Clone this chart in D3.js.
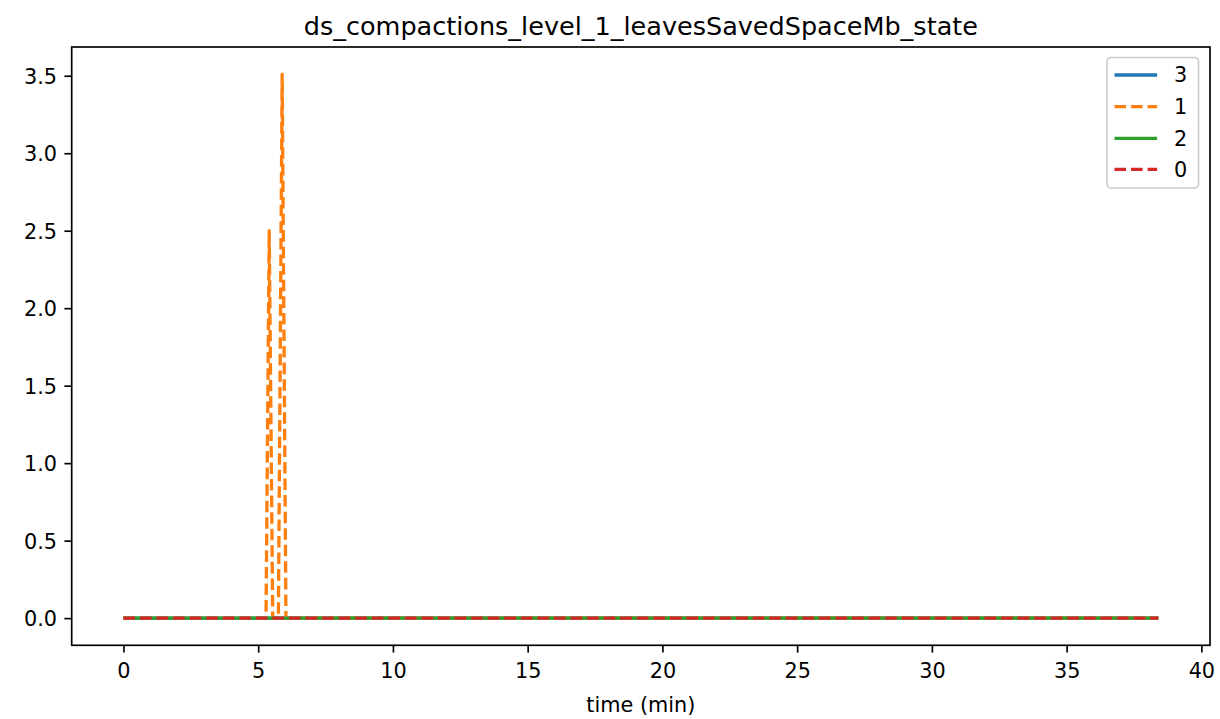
<!DOCTYPE html>
<html>
<head>
<meta charset="utf-8">
<script src="https://cdn.jsdelivr.net/npm/d3@7"></script>
<style>
  html, body { margin: 0; padding: 0; background: #fff; }
  svg { display: block; font-family: "DejaVu Sans", sans-serif; }
</style>
</head>
<body>
<div id="chart"></div>
<script>
// ---- data ----
const chartTitle = "ds_compactions_level_1_leavesSavedSpaceMb_state";
const xLabel = "time (min)";
const seriesNames = ["3", "1", "2", "0"];
const seriesColors = ["#1f77b4", "#ff7f0e", "#2ca02c", "#d62728"];
const seriesDashed = [false, true, false, true];

const time3 = [0, 38.4];
const values3 = [0, 0];
const time1 = [0, 5.29, 5.41, 5.54, 5.75, 5.89, 6.03, 38.4];
const values1 = [0, 0, 2.5, 0, 0, 3.51, 0, 0];
const time2 = [0, 38.4];
const values2 = [0, 0];
const time0 = [0, 38.4];
const values0 = [0, 0];

const xTicks = [0, 5, 10, 15, 20, 25, 30, 35, 40];
const yTicks = [0.0, 0.5, 1.0, 1.5, 2.0, 2.5, 3.0, 3.5];

const seriesTimes = [time3, time1, time2, time0];
const seriesValues = [values3, values1, values2, values0];

// ---- layout ----
const W = 1220, H = 719;
const plot = { left: 71.7, right: 1210, top: 47, bottom: 645.3 };
const fontTick = 20.8, fontTitle = 25.5;
const lw = 3.3;

const svg = d3.select("#chart").append("svg").attr("width", W).attr("height", H);
svg.append("rect").attr("width", W).attr("height", H).attr("fill", "#fff");

const allT = seriesTimes.flat(), allV = seriesValues.flat();
const tMin = d3.min(allT), tMax = d3.max(allT);
const vMin = d3.min(allV), vMax = d3.max(allV);
const tPad = (tMax - tMin) * 0.05, vPad = (vMax - vMin) * 0.05;

const x = d3.scaleLinear().domain([tMin - tPad, tMax + tPad]).range([plot.left, plot.right]);
const y = d3.scaleLinear().domain([vMin - vPad, vMax + vPad]).range([plot.bottom, plot.top]);

// lines
const line = d3.line().x(d => x(d[0])).y(d => y(d[1]));
const gLines = svg.append("g");
seriesNames.forEach((name, i) => {
  const pts = seriesTimes[i].map((t, j) => [t, seriesValues[i][j]]);
  gLines.append("path")
    .attr("d", line(pts))
    .attr("fill", "none")
    .attr("stroke", seriesColors[i])
    .attr("stroke-width", lw)
    .attr("stroke-linejoin", "round")
    .attr("stroke-dasharray", seriesDashed[i] ? "11.56,5" : null);
});

// axes
const tickLen = 7.3, tickPad = 7.3;
const xAxis = d3.axisBottom(x).tickValues(xTicks).tickFormat(d3.format("d"))
  .tickSizeInner(tickLen).tickSizeOuter(0).tickPadding(tickPad);
const yAxis = d3.axisLeft(y).tickValues(yTicks).tickFormat(d3.format(".1f"))
  .tickSizeInner(tickLen).tickSizeOuter(0).tickPadding(tickPad);

const gx = svg.append("g").attr("transform", `translate(0,${plot.bottom})`).call(xAxis);
const gy = svg.append("g").attr("transform", `translate(${plot.left},0)`).call(yAxis);
[gx, gy].forEach(g => {
  g.select(".domain").remove();
  g.selectAll(".tick line").attr("stroke", "#000").attr("stroke-width", 1.67);
  g.selectAll(".tick text").attr("font-size", fontTick).attr("fill", "#000")
    .attr("font-family", "DejaVu Sans, sans-serif");
});
gx.selectAll(".tick text").attr("dy", "0.85em");
gy.selectAll(".tick text").attr("dy", "0.36em");

// frame
svg.append("rect")
  .attr("x", plot.left).attr("y", plot.top)
  .attr("width", plot.right - plot.left).attr("height", plot.bottom - plot.top)
  .attr("fill", "none").attr("stroke", "#000").attr("stroke-width", 1.67);

// title
svg.append("text")
  .attr("x", (plot.left + plot.right) / 2).attr("y", plot.top - 12.5)
  .attr("text-anchor", "middle").attr("font-size", fontTitle).attr("fill", "#000")
  .text(chartTitle);

// x label
svg.append("text")
  .attr("x", (plot.left + plot.right) / 2).attr("y", 712)
  .attr("text-anchor", "middle").attr("font-size", fontTick).attr("fill", "#000")
  .text(xLabel);

// legend
const lg = { left: 1107, right: 1198.5, top: 57.5, bottom: 188 };
svg.append("rect")
  .attr("x", lg.left).attr("y", lg.top)
  .attr("width", lg.right - lg.left).attr("height", lg.bottom - lg.top)
  .attr("rx", 4).attr("ry", 4)
  .attr("fill", "#fff").attr("fill-opacity", 0.8)
  .attr("stroke", "#cccccc").attr("stroke-width", 1.67);
const rowY = [75, 106.7, 138.3, 169.3];
seriesNames.forEach((name, i) => {
  svg.append("line")
    .attr("x1", 1114.5).attr("x2", 1157.1)
    .attr("y1", rowY[i]).attr("y2", rowY[i])
    .attr("stroke", seriesColors[i]).attr("stroke-width", lw)
    .attr("stroke-dasharray", seriesDashed[i] ? "11.56,5" : null);
  svg.append("text")
    .attr("x", 1174).attr("y", rowY[i]).attr("dy", "0.36em")
    .attr("font-size", fontTick).attr("fill", "#000")
    .text(name);
});
</script>
</body>
</html>
